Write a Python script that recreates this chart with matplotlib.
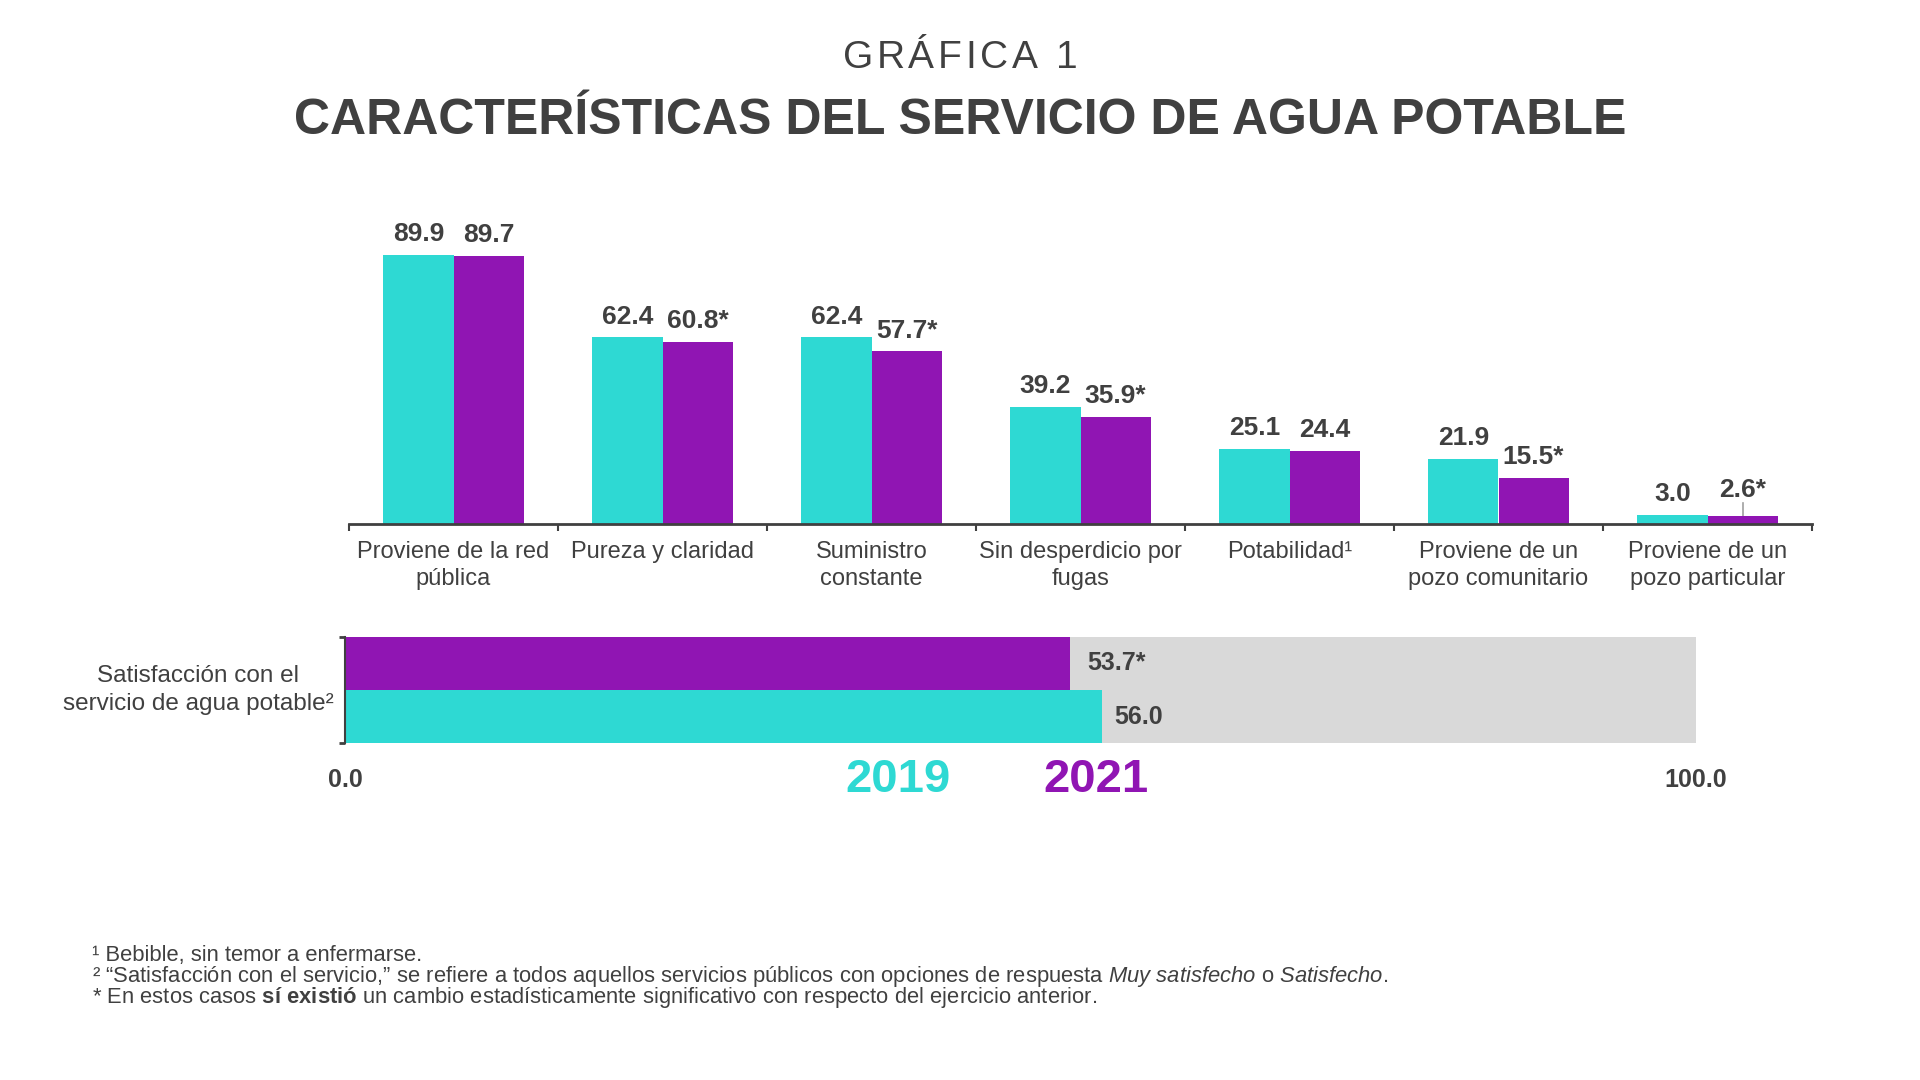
import matplotlib
matplotlib.use("Agg")
import matplotlib.pyplot as plt
import numpy as np

INK = "#404040"
TEAL = "#2ED9D3"
PURPLE = "#9015B3"
BACK = "#D9D9D9"
plt.rcParams.update({
    "font.family": ["Liberation Sans", "DejaVu Sans"],
    "mathtext.fontset": "custom",
    "mathtext.rm": "Liberation Sans",
    "mathtext.it": "Liberation Sans:italic",
    "mathtext.bf": "Liberation Sans:bold",
})

# ---- datos ----
categorias = ["Proviene de la red\npública", "Pureza y claridad", "Suministro\nconstante",
              "Sin desperdicio por\nfugas", "Potabilidad¹", "Proviene de un\npozo comunitario",
              "Proviene de un\npozo particular"]
v2019 = [89.9, 62.4, 62.4, 39.2, 25.1, 21.9, 3.0]
v2021 = [89.7, 60.8, 57.7, 35.9, 24.4, 15.5, 2.6]
sig2021 = [False, True, True, True, False, True, True]

sat_label = "Satisfacción con el\nservicio de agua potable²"
sat2019 = 56.0
sat2021 = 53.7
sat2021_sig = True
escala_max = 100.0

W, H = 1920, 1080
fig = plt.figure(figsize=(W / 100, H / 100), dpi=100)
fig.patch.set_facecolor("white")
rend = fig.canvas.get_renderer()

def px(x, y):
    return x / W, 1 - y / H

# ---- títulos ----
# "GRÁFICA 1" con espaciado entre letras
sup = "GRÁFICA 1"
track = 3.7
anchos = []
for ch in sup:
    t = fig.text(0, 0, ch if ch != " " else "I", fontsize=28)
    anchos.append(t.get_window_extent(rend).width if ch != " " else 11)
    t.remove()
total = sum(anchos) + track * (len(sup) - 1)
cx = 960 - total / 2
for ch, w in zip(sup, anchos):
    if ch != " ":
        fig.text(*px(cx, 58), ch, ha="left", va="center", fontsize=28, color=INK)
    cx += w + track

fig.text(*px(960, 121), "CARACTERÍSTICAS DEL SERVICIO DE AGUA POTABLE", ha="center",
         va="center", fontsize=36, fontweight="bold", color=INK)

# ---- gráfica de barras superior ----
ax = fig.add_axes([349 / W, (1080 - 524) / H, 1463 / W, 299 / H])
x = np.arange(len(categorias))
bw = 0.335
ax.bar(x - bw / 2, v2019, bw, color=TEAL, zorder=2)
ax.bar(x + bw / 2, v2021, bw, color=PURPLE, zorder=2)
ax.set_xlim(-0.5, len(categorias) - 0.5)
ax.set_ylim(0, 100)
for s in ("top", "right", "left"):
    ax.spines[s].set_visible(False)
ax.spines["bottom"].set_color(INK)
ax.spines["bottom"].set_linewidth(2)
ax.set_yticks([])
ax.set_xticks(x)
ax.set_xticklabels(categorias, fontsize=17, color=INK, linespacing=1.3)
ax.tick_params(axis="x", which="major", length=0, pad=12)
ax.set_xticks(np.arange(len(categorias) + 1) - 0.5, minor=True)
ax.tick_params(axis="x", which="minor", length=5, width=1.5, color=INK, direction="out")

for i, (a, b, s) in enumerate(zip(v2019, v2021, sig2021)):
    ax.annotate(f"{a:.1f}", (i - bw / 2, a), xytext=(0, 10), textcoords="offset points",
                ha="center", va="baseline", fontsize=19, fontweight="bold", color=INK)
    lab = f"{b:.1f}" + ("*" if s else "")
    if b < 5:
        ax.annotate(lab, (i + bw / 2, b), xytext=(0, 14), textcoords="offset points",
                    ha="center", va="baseline", fontsize=19, fontweight="bold", color=INK)
        ax.plot([i + bw / 2, i + bw / 2], [b, b + 4.5], color="#A0A0A0", lw=1.2, zorder=1)
    else:
        ax.annotate(lab, (i + bw / 2, b), xytext=(0, 10), textcoords="offset points",
                    ha="center", va="baseline", fontsize=19, fontweight="bold", color=INK)

# ---- barra de satisfacción ----
bx = fig.add_axes([345 / W, (1080 - 743) / H, 1351 / W, 106 / H])
bx.barh(1, escala_max, 2, color=BACK, zorder=1)
bx.barh(0.5, sat2019, 1, color=TEAL, zorder=2)
bx.barh(1.5, sat2021, 1, color=PURPLE, zorder=2)
bx.set_xlim(0, escala_max)
bx.set_ylim(0, 2)
for s in ("top", "right", "bottom"):
    bx.spines[s].set_visible(False)
bx.spines["left"].set_color(INK)
bx.spines["left"].set_linewidth(1.5)
bx.spines["left"].set_zorder(3)
bx.set_yticks([0, 2])
bx.set_yticklabels([])
bx.tick_params(axis="y", length=4, width=2, color=INK)
bx.set_xticks([0, escala_max])
bx.set_xticklabels([f"{0:.1f}", f"{escala_max:.1f}"], fontsize=18, fontweight="bold", color=INK)
bx.tick_params(axis="x", length=0, pad=18)
bx.annotate(f"{sat2021:.1f}" + ("*" if sat2021_sig else ""), (sat2021, 1.5), xytext=(12, 0),
            textcoords="offset points", ha="left", va="center", fontsize=18,
            fontweight="bold", color=INK)
bx.annotate(f"{sat2019:.1f}", (sat2019, 0.5), xytext=(9, 0), textcoords="offset points",
            ha="left", va="center", fontsize=18, fontweight="bold", color=INK)
fig.text(*px(198, 690), sat_label, ha="center", va="center", fontsize=17.5, color=INK,
         multialignment="center", linespacing=1.3)

# leyenda
fig.text(*px(898, 780), "2019", ha="center", va="center", fontsize=34, fontweight="heavy", color=TEAL)
fig.text(*px(1096, 780), "2021", ha="center", va="center", fontsize=34, fontweight="heavy", color=PURPLE)

# ---- notas ----
notas = [
    "¹ Bebible, sin temor a enfermarse.",
    "² “Satisfacción con el servicio,” se refiere a todos aquellos servicios públicos con opciones "
    r"de respuesta $\mathit{Muy\ satisfecho}$ o $\mathit{Satisfecho}$.",
    r"* En estos casos $\mathbf{sí\ existió}$ un cambio estadísticamente significativo con respecto "
    "del ejercicio anterior.",
]
for k, t in enumerate(notas):
    fig.text(*px(92, 955 + 21.5 * k), t, ha="left", va="center", fontsize=15.8, color=INK)

fig.savefig("out.png", dpi=100, facecolor="white")
